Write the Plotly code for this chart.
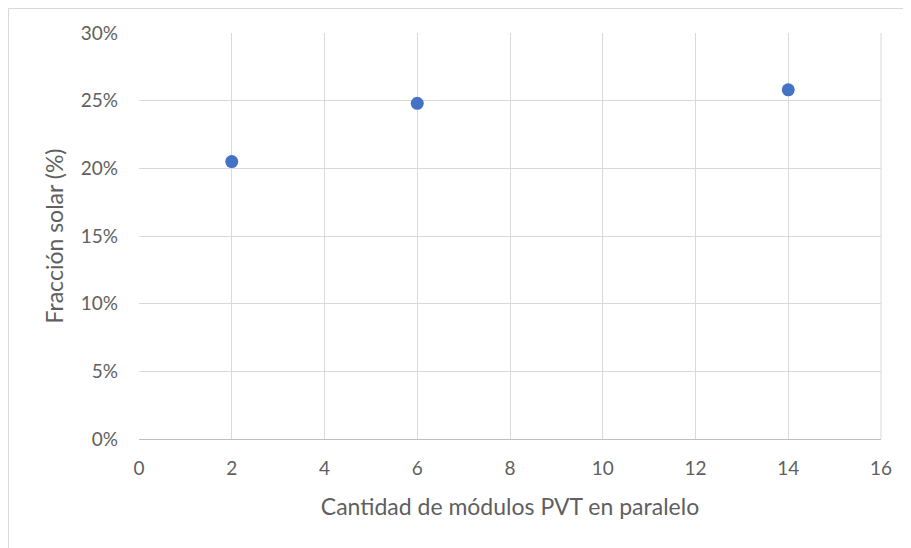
import plotly.graph_objects as go

modulos = [2, 6, 14]
fraccion_solar = [0.205, 0.248, 0.258]
x_ticks = [0, 2, 4, 6, 8, 10, 12, 14, 16]
y_ticks = [0, 0.05, 0.10, 0.15, 0.20, 0.25, 0.30]

FONT = "Lato"
GRAY = "#5f5f5f"

# page body has an 8px offset; figure sized to compensate
W, H = 903, 540
L, R, T, B = 131, 30, 25, 109
PW, PH = W - L - R, H - T - B

fig = go.Figure()
fig.add_trace(go.Scatter(
    x=modulos, y=fraccion_solar, mode="markers",
    marker=dict(color="#4472C4", size=13, line=dict(width=0)),
    showlegend=False,
))

fig.update_layout(
    width=W, height=H,
    margin=dict(l=L, r=R, t=T, b=B),
    paper_bgcolor="white", plot_bgcolor="white",
    font=dict(family=FONT, color=GRAY, size=19),
    xaxis=dict(
        range=[0, 16], tickvals=x_ticks, ticktext=[str(v) for v in x_ticks],
        showgrid=True, gridcolor="#d9d9d9", gridwidth=1,
        zeroline=False, showline=True, linecolor="#bfbfbf", linewidth=1,
        mirror=False, ticks="", ticklabelstandoff=12,
        title=dict(text="Cantidad de módulos PVT en paralelo", font=dict(size=23, color=GRAY), standoff=21),
        tickfont=dict(size=19, color=GRAY),
    ),
    yaxis=dict(
        range=[0, 0.30], tickvals=y_ticks, tickformat=".0%",
        showgrid=True, gridcolor="#d9d9d9", gridwidth=1,
        zeroline=False, showline=False, ticks="", ticklabelstandoff=20,
        title=dict(text="Fracción solar (%)", font=dict(size=23, color=GRAY), standoff=10),
        tickfont=dict(size=19, color=GRAY),
    ),
    shapes=[
        dict(type="line", xref="paper", yref="paper", x0=1, x1=1, y0=0, y1=1,
             line=dict(color="#d9d9d9", width=1)),
        dict(type="rect", xref="paper", yref="paper",
             x0=(0.5 - L) / PW, x1=(W + 20 - L) / PW,
             y0=-(B + 20) / PH, y1=(PH + T - 0.5) / PH,
             line=dict(color="#d9d9d9", width=1), fillcolor="rgba(0,0,0,0)", layer="below"),
    ],
)

fig.write_html("out.html")
